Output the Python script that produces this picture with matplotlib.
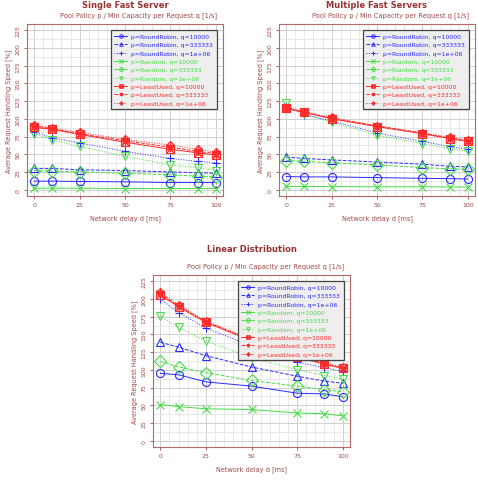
import matplotlib
matplotlib.use("Agg")
import matplotlib.pyplot as plt
from matplotlib.lines import Line2D
from matplotlib.path import Path
from matplotlib.ticker import MultipleLocator

# network delay d [ms]
delays = [0, 10, 25, 50, 75, 90, 100]

# Single Fast Server
single_rr_1e4 = [12, 12, 11.5, 11, 10, 10, 10]
single_rr_333 = [30, 30, 28, 27, 25, 24, 23]
single_rr_1e6 = [82, 73, 66, 54, 44, 40, 38]
single_rnd_1e4 = [2, 2, 2, 1.5, 1.5, 1.5, 1.5]
single_rnd_333 = [27, 26, 25, 23, 21, 19, 18]
single_rnd_1e6 = [79, 70, 61, 47, 35, 31, 27]
single_lu_1e4 = [88, 85, 78, 67, 57, 52, 49]
single_lu_333 = [90, 86, 79, 69, 60, 54, 51]
single_lu_1e6 = [91, 87, 81, 71, 63, 57, 53]

# Multiple Fast Servers
multi_rr_1e4 = [18.5, 18, 18, 17, 16, 15.5, 15]
multi_rr_333 = [46, 44, 42, 39, 36, 33, 32]
multi_rr_1e6 = [118, 106, 97, 80, 68, 61, 57]
multi_rnd_1e4 = [4.5, 4.5, 4.3, 4, 4, 3.8, 3.7]
multi_rnd_333 = [41, 40, 38, 35, 31, 29.5, 28.5]
multi_rnd_1e6 = [122, 107, 95, 77, 65, 58, 54]
multi_lu_1e4 = [115, 109, 100, 89, 79, 72, 68]
multi_lu_333 = [115, 109, 101, 90, 80, 73, 69]
multi_lu_1e6 = [116, 110, 102, 90, 80, 74, 70]

# Linear Distribution
linear_rr_1e4 = [95, 93, 83, 77, 67, 66, 62]
linear_rr_333 = [139, 132, 120, 104, 91, 84, 81]
linear_rr_1e6 = [200, 181, 159, 134, 111, 103, 98]
linear_rnd_1e4 = [51, 48, 45, 44, 39, 38, 35]
linear_rnd_333 = [112, 104, 96, 85, 77, 72, 69]
linear_rnd_1e6 = [176, 160, 141, 117, 100, 92, 87]
linear_lu_1e4 = [206, 189, 167, 141, 118, 108, 102]
linear_lu_333 = [208, 190, 168, 142, 119, 109, 103]
linear_lu_1e6 = [210, 192, 169, 143, 120, 110, 104]

policies = ["RoundRobin", "Random", "LeastUsed"]
capacities = ["10000", "333333", "1e+06"]

TXT = "#a04848"
FRAME = "#b86868"
COLORS = {"RoundRobin": "#2a2aff", "Random": "#44dd44", "LeastUsed": "#ff2a2a"}
STYLES = ["-", "--", ":"]


def compound(*paths):
    return Path.make_compound_path(*paths)


# R-like point symbols
sq = Path([(-1, -1), (1, -1), (1, 1), (-1, 1), (-1, -1)],
          [Path.MOVETO, Path.LINETO, Path.LINETO, Path.LINETO, Path.CLOSEPOLY])
xx = Path([(-1, -1), (1, 1), (-1, 1), (1, -1)],
          [Path.MOVETO, Path.LINETO, Path.MOVETO, Path.LINETO])
dia = Path([(0, -1.3), (1.3, 0), (0, 1.3), (-1.3, 0), (0, -1.3)],
           [Path.MOVETO, Path.LINETO, Path.LINETO, Path.LINETO, Path.CLOSEPOLY])
pl = Path([(0, -1.3), (0, 1.3), (-1.3, 0), (1.3, 0)],
          [Path.MOVETO, Path.LINETO, Path.MOVETO, Path.LINETO])

MARKERS = {
    "RoundRobin": ["o", "^", "+"],
    "Random": ["x", "D", "v"],
    "LeastUsed": [compound(sq, xx), (8, 2, 0), compound(dia, pl)],
}

panels = [
    ("Single Fast Server", [27 / 478, 1 - 197 / 481, 196 / 478, 172 / 481],
     {"RoundRobin": [single_rr_1e4, single_rr_333, single_rr_1e6],
      "Random": [single_rnd_1e4, single_rnd_333, single_rnd_1e6],
      "LeastUsed": [single_lu_1e4, single_lu_333, single_lu_1e6]}),
    ("Multiple Fast Servers", [279 / 478, 1 - 197 / 481, 196 / 478, 172 / 481],
     {"RoundRobin": [multi_rr_1e4, multi_rr_333, multi_rr_1e6],
      "Random": [multi_rnd_1e4, multi_rnd_333, multi_rnd_1e6],
      "LeastUsed": [multi_lu_1e4, multi_lu_333, multi_lu_1e6]}),
    ("Linear Distribution", [153 / 478, 1 - 448 / 481, 197 / 478, 172 / 481],
     {"RoundRobin": [linear_rr_1e4, linear_rr_333, linear_rr_1e6],
      "Random": [linear_rnd_1e4, linear_rnd_333, linear_rnd_1e6],
      "LeastUsed": [linear_lu_1e4, linear_lu_333, linear_lu_1e6]}),
]

plt.rcParams["font.family"] = "DejaVu Sans"
fig = plt.figure(figsize=(4.78, 4.81), dpi=100)

for title, rect, series in panels:
    ax = fig.add_axes(rect)
    ax.set_xlim(-4, 104)
    ax.set_ylim(-9, 234)
    ax.xaxis.set_major_locator(MultipleLocator(25))
    ax.xaxis.set_minor_locator(MultipleLocator(5))
    ax.yaxis.set_major_locator(MultipleLocator(25))
    ax.yaxis.set_minor_locator(MultipleLocator(12.5))
    ax.grid(True, which="minor", color="#e4e4e4", lw=0.6)
    ax.grid(True, which="major", color="#cfcfcf", lw=0.7)
    ax.set_axisbelow(True)
    for sp in ax.spines.values():
        sp.set_color(FRAME)
        sp.set_linewidth(0.8)
    ax.tick_params(which="major", colors=TXT, labelsize=4.5, length=2.5, width=0.6, pad=2)
    ax.tick_params(which="minor", length=0)
    for lab in ax.get_yticklabels():
        lab.set_rotation(90)
        lab.set_va("center")

    handles = []
    for pol in policies:
        for k, vals in enumerate(series[pol]):
            c = COLORS[pol]
            m = MARKERS[pol][k]
            ax.plot(delays, vals, color=c, ls=STYLES[k], lw=0.7,
                    marker=m, ms=5.8, mfc="none", mew=0.8)
            handles.append(Line2D([], [], color=c, ls=STYLES[k], lw=0.7,
                                  marker=m, ms=2.5, mfc="none", mew=0.7,
                                  label=f"p={pol}, q={capacities[k]}"))

    leg = ax.legend(handles=handles, loc="upper right", fontsize=4.4,
                    labelcolor="linecolor", frameon=True, fancybox=False,
                    facecolor="#eeeeee", edgecolor="#444444", framealpha=1,
                    handlelength=2.1, handletextpad=0.7, labelspacing=0.5,
                    borderpad=0.6, borderaxespad=1.0)
    leg.get_frame().set_linewidth(0.9)

    ax.set_xlabel("Network delay d [ms]", fontsize=4.7, color=TXT, labelpad=5)
    ax.set_ylabel("Average Request Handling Speed [%]", fontsize=4.7, color=TXT, labelpad=3)
    ax.text(0.97, 1.035, "Pool Policy p / Min Capacity per Request q [1/s]",
            transform=ax.transAxes, ha="right", va="bottom", fontsize=4.8, color=TXT)
    if rect[1] > 0.5:
        # top row: title sits right at the top edge of the figure
        fig.text(rect[0] + rect[2] / 2, 1 - 0.5 / 481, title, ha="center", va="top",
                 fontsize=6, fontweight="bold", color="#993333")
    else:
        ax.text(0.5, 1.13, title, transform=ax.transAxes, ha="center", va="bottom",
                fontsize=6, fontweight="bold", color="#993333")

fig.savefig("out.png", dpi=100)
